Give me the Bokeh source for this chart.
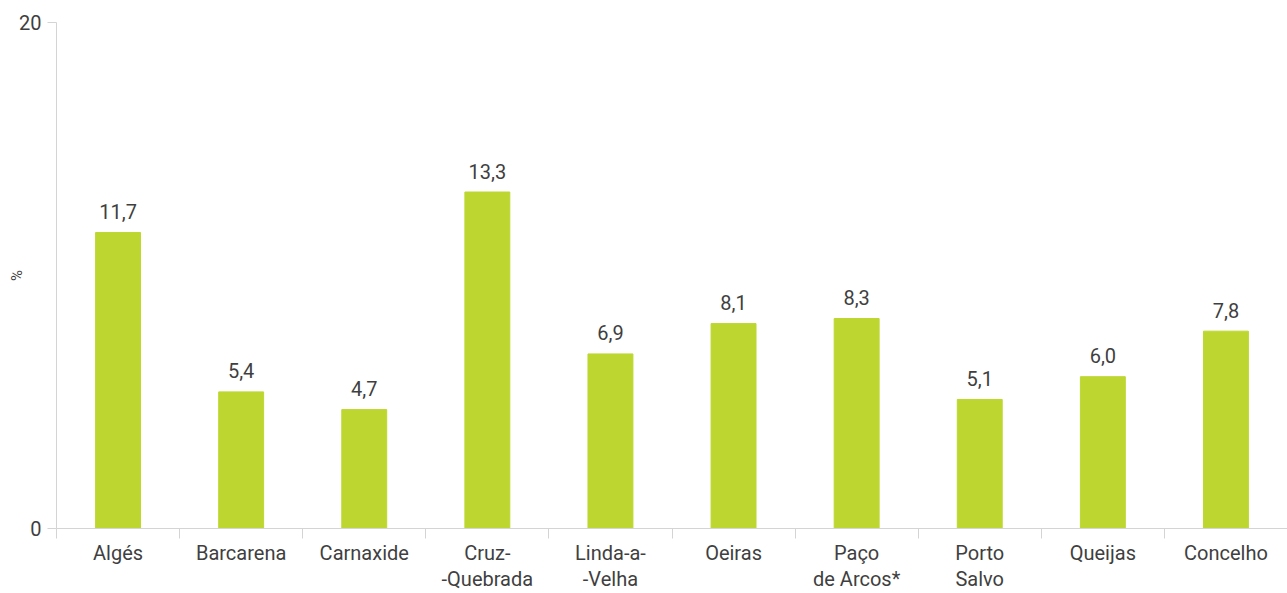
from bokeh.plotting import figure
from bokeh.models import ColumnDataSource, LinearAxis, FixedTicker, Range1d
from bokeh.embed import file_html
from bokeh.resources import INLINE
from bokeh.core.properties import value

categories = ["Algés", "Barcarena", "Carnaxide", "Cruz-\n-Quebrada", "Linda-a-\n-Velha",
              "Oeiras", "Paço\nde Arcos*", "Porto\nSalvo", "Queijas", "Concelho"]
values = [11.7, 5.4, 4.7, 13.3, 6.9, 8.1, 8.3, 5.1, 6.0, 7.8]
y_ticks = [0, 20]
y_title = "%"

FONT = "Roboto"
TXT = "#3f3f3f"
GRID = "#d4d4d4"
BAR = "#BED730"
FS = "20px"

n = len(categories)
centers = [i + 0.5 for i in range(n)]
bounds = list(range(n + 1))
labels = [f"{v:.1f}".replace(".", ",") for v in values]
src = ColumnDataSource(dict(x=centers, top=values, lab=labels))

p = figure(width=1287, height=593, output_backend="svg", toolbar_location=None,
           x_range=Range1d(0, n), y_range=Range1d(0, 20),
           min_border_left=56, min_border_right=0, min_border_top=22, min_border_bottom=63,
           x_axis_location=None, y_axis_location=None)
p.outline_line_color = None
p.xgrid.visible = False
p.ygrid.visible = False
p.background_fill_color = "white"
p.border_fill_color = "white"

p.vbar(x="x", top="top", width=0.365, bottom=0, source=src, color=BAR)
p.text(x="x", y="top", text="lab", source=src, text_align="center", text_baseline="alphabetic",
       y_offset=-21, text_font=value(FONT), text_font_size=FS, text_color=TXT)

# y axis
ya = LinearAxis(ticker=FixedTicker(ticks=y_ticks), axis_label=y_title)
ya.axis_line_color = GRID
ya.major_tick_line_color = GRID
ya.major_tick_in = 0
ya.major_tick_out = 9
ya.minor_tick_line_color = None
ya.major_label_text_font = FONT
ya.major_label_text_font_size = FS
ya.major_label_text_color = TXT
ya.major_label_standoff = 6
ya.axis_label_text_font = FONT
ya.axis_label_text_font_size = "15px"
ya.axis_label_text_font_style = "normal"
ya.axis_label_text_color = TXT
ya.axis_label_standoff = -10
p.add_layout(ya, "left")

# x axis: labels at centers, boundary ticks as minor ticks
xa = LinearAxis(ticker=FixedTicker(ticks=centers, minor_ticks=bounds),
                major_label_overrides={c: lab for c, lab in zip(centers, categories)})
xa.axis_line_color = GRID
xa.major_tick_line_color = None
xa.major_tick_in = 0
xa.major_tick_out = 0
xa.minor_tick_line_color = GRID
xa.minor_tick_in = 0
xa.minor_tick_out = 10
xa.major_label_text_font = FONT
xa.major_label_text_font_size = FS
xa.major_label_text_line_height = 1.1
xa.major_label_text_color = TXT
xa.major_label_standoff = 2
p.add_layout(xa, "below")

open("out.html", "w").write(file_html(p, INLINE))
